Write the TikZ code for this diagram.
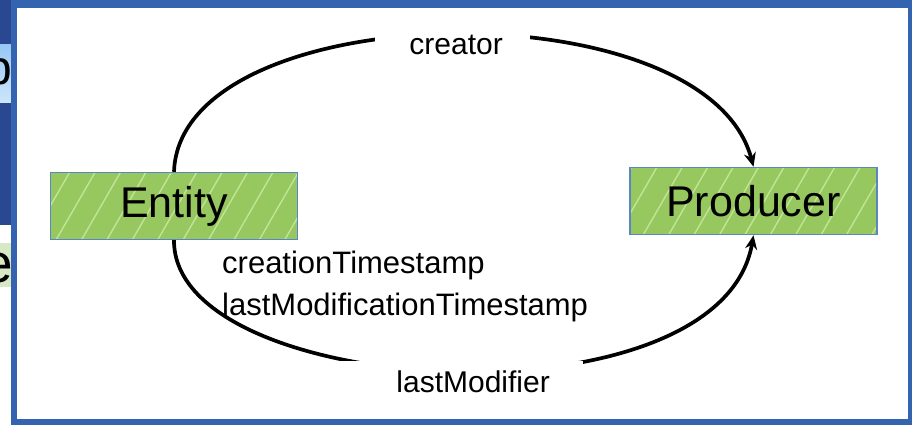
\documentclass[tikz,border=0pt]{standalone}
\usepackage{fontspec}
\setmainfont{Liberation Sans}
\usetikzlibrary{arrows.meta,patterns.meta}
\definecolor{boxgreen}{RGB}{150,200,95}
\definecolor{hatchgreen}{RGB}{195,228,150}
\definecolor{boxedge}{RGB}{90,135,195}
\definecolor{framebl}{RGB}{52,100,175}
\definecolor{deskbl}{RGB}{42,72,145}
\definecolor{tabtop}{RGB}{150,200,245}
\definecolor{tabbot}{RGB}{205,230,250}
\definecolor{tabgreen}{RGB}{214,232,196}

\begin{document}
\begin{tikzpicture}[x=1pt,y=-1pt,
  concept/.style={draw=boxedge, line width=1.5pt, preaction={fill=boxgreen},
    pattern={Lines[angle=60,distance=22pt,line width=1.4pt]}, pattern color=hatchgreen,
    minimum width=247pt, minimum height=67pt, inner sep=0pt, font=\fontsize{43}{50}\selectfont},
  rel/.style={line width=3.7pt, -{Stealth[length=14pt,width=12pt]}},
  relname/.style={fill=white, inner ysep=9pt, align=right, font=\fontsize{30}{42}\selectfont}]
\useasboundingbox (0,0) rectangle (912,425);
\fill[deskbl] (0,0) rectangle (12,225);
\shade[top color=tabtop, bottom color=tabbot] (0,45) rectangle (11,103);
\fill[tabgreen] (0,243) rectangle (11,287);
\begin{scope}
\clip (0,0) rectangle (11,425);
\node[anchor=base east, inner sep=0pt, font=\fontsize{48}{50}\selectfont] (tabp) at (12,85) {p};
\node[anchor=base east, inner sep=0pt, font=\fontsize{55}{60}\selectfont] (tabe) at (13,282) {e};
\end{scope}
\fill[framebl] (11,0) rectangle (912,425);
\fill[white] (17,8) rectangle (908,419);
\node[concept] (entity) at (174,206) {Entity};
\node[concept] (producer) at (753.5,201) {Producer};
\draw[rel] (entity.north) .. controls (180,-5) and (705,-15) .. (producer.north);
\draw[rel] (entity.south) .. controls (173,400) and (720,430) .. (producer.south);
\node[relname, anchor=base east, inner xsep=27pt, text width=101pt] (creator) at (530,55) {creator};
\node[relname, anchor=base east, inner xsep=33pt, text width=179pt] (modifier) at (583,392) {lastModifier};
\node[anchor=north west, inner sep=0pt, align=left, font=\fontsize{31}{42}\selectfont] (stamps) at (222,251) {creationTimestamp\\lastModificationTimestamp};
\end{tikzpicture}
\end{document}
